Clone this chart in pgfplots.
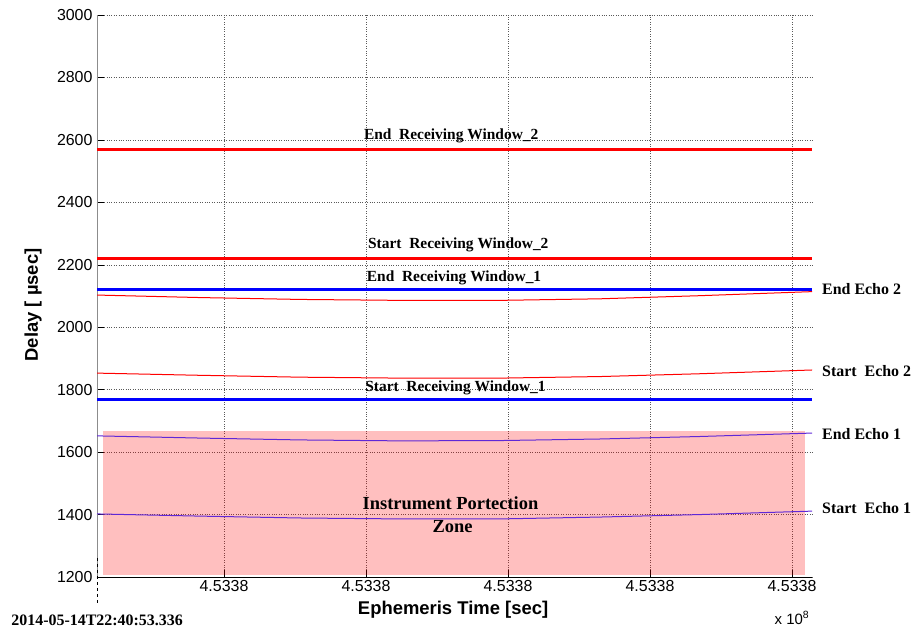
\documentclass[border=0pt]{standalone}
\usepackage{fontspec}
\setmainfont{Liberation Serif}
\setsansfont{Liberation Sans}
\usepackage{pgfplots}
\pgfplotsset{compat=1.18}
\definecolor{echoone}{RGB}{95,40,215}
\begin{document}
\begin{tikzpicture}
\useasboundingbox (-97bp,-56bp) rectangle (815bp,577bp);
\begin{axis}[
  at={(0,0)}, anchor=south west,
  width=715bp, height=562bp, scale only axis,
  xmin=-0.8944, xmax=4.1408, ymin=1200, ymax=3000,
  axis x line*=bottom, axis y line*=left,
  x axis line style={black, -}, y axis line style={black!45, -},
  xtick={0,1,2,3,4},
  xticklabels={4.5338,4.5338,4.5338,4.5338,4.5338},
  ytick={1200,1400,...,3000},
  tick align=inside, major tick length=7bp, tick style={black, thin},
  grid=major, major grid style={dotted, black!65, thin},
  ticklabel style={font=\sffamily\fontsize{16}{19}\selectfont},
  yticklabel style={xshift=-1bp},
  /pgf/number format/assume math mode=true, /pgf/number format/1000 sep={},
  clip=false,
  xlabel={Ephemeris Time [sec]},
  ylabel={Delay [ µsec]},
  label style={font=\sffamily\bfseries\fontsize{18.5}{22}\selectfont},
  xlabel style={at={(axis description cs:0.498,-0.0587)}, anchor=center},
  ylabel style={at={(axis description cs:-0.0895,0.484)}, anchor=center},
]
% instrument protection zone
\addplot[draw=none, fill=red, fill opacity=0.25] coordinates {(-0.852,1205) (4.092,1205) (4.092,1668) (-0.852,1668)} -- cycle;

% receiving windows
\addplot[red, line width=3bp] coordinates {(-0.894,2570) (4.141,2570)};
\addplot[red, line width=3bp] coordinates {(-0.894,2221) (4.141,2221)};
\addplot[blue, line width=3bp] coordinates {(-0.894,2120) (4.141,2120)};
\addplot[blue, line width=3bp] coordinates {(-0.894,1770) (4.141,1770)};

% echoes
\addplot[red, line width=1bp] coordinates {(-0.894,2103) (-0.169,2095) (0.535,2089) (1.239,2086) (1.944,2086) (2.648,2091) (3.352,2101) (4.141,2114)};
\addplot[red, line width=1bp] coordinates {(-0.894,1853) (-0.169,1846) (0.535,1840) (1.239,1837) (1.944,1837) (2.648,1842) (3.352,1851) (4.141,1863)};
\addplot[echoone, line width=1bp] coordinates {(-0.894,1652) (-0.169,1645) (0.535,1639) (1.239,1636) (1.944,1637) (2.648,1642) (3.352,1650) (4.141,1661)};
\addplot[echoone, line width=1bp] coordinates {(-0.894,1402) (-0.169,1395) (0.535,1389) (1.239,1386) (1.944,1386) (2.648,1392) (3.352,1400) (4.141,1411)};

% labels
\begin{scope}[font=\bfseries\fontsize{15.5}{18}\selectfont]
\node at (axis cs:1.60,2612) {End\ \ Receiving Window\_2};
\node at (axis cs:1.65,2263) {Start\ \ Receiving Window\_2};
\node at (axis cs:1.62,2158) {End\ \ Receiving Window\_1};
\node at (axis cs:1.63,1805) {Start\ \ Receiving Window\_1};
\end{scope}
\begin{scope}[font=\bfseries\fontsize{16}{19}\selectfont]
\node[anchor=west, inner sep=0pt] at (axis cs:4.211,2122) {End Echo 2};
\node[anchor=west, inner sep=0pt] at (axis cs:4.211,1860) {Start\ \ Echo 2};
\node[anchor=west, inner sep=0pt] at (axis cs:4.211,1658) {End Echo 1};
\node[anchor=west, inner sep=0pt] at (axis cs:4.211,1421) {Start\ \ Echo 1};
\node at (axis cs:-0.894,1062) {2014-05-14T22:40:53.336};
\end{scope}
\begin{scope}[font=\bfseries\fontsize{18.5}{22}\selectfont]
\node at (axis cs:1.595,1437) {Instrument Portection};
\node at (axis cs:1.61,1363) {Zone};
\end{scope}
\node[font=\sffamily\fontsize{15}{18}\selectfont] at (axis cs:4.0,1069) {x 10\textsuperscript{8}};
\draw[dashed, black, thin] (axis cs:-0.894,1261) -- (axis cs:-0.894,1110);
\end{axis}
\end{tikzpicture}
\end{document}
